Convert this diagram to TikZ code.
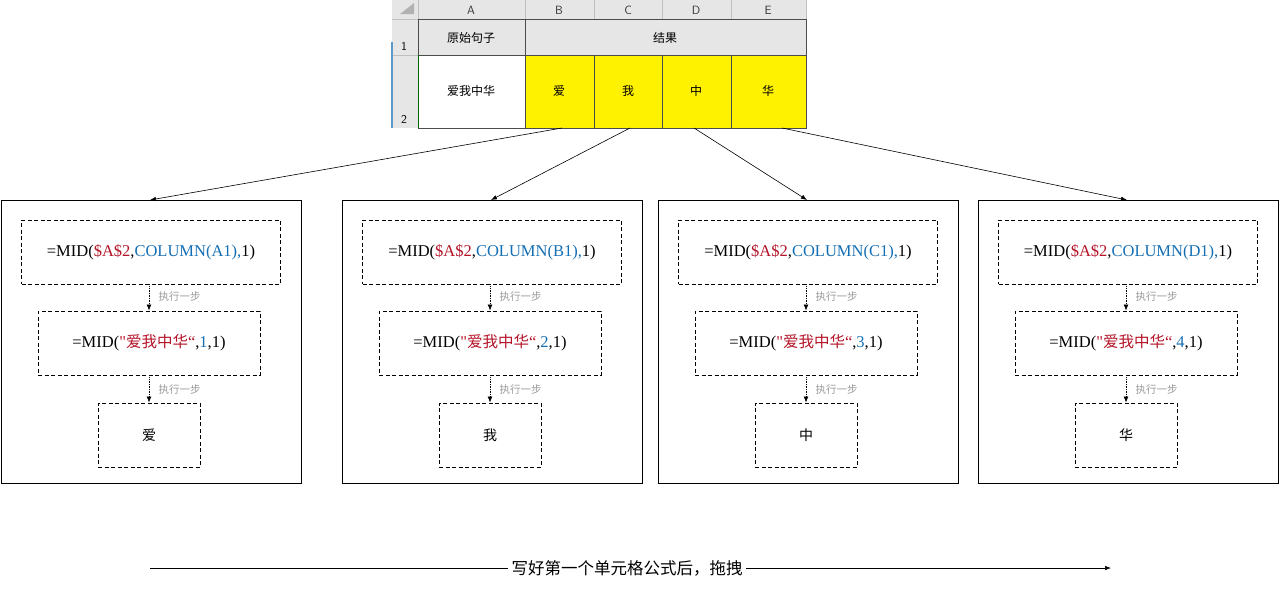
\documentclass[tikz,border=0pt]{standalone}
\usepackage{fontspec}
\setmainfont{Liberation Serif}
\newfontfamily\rawserif{Liberation Serif}
\newfontfamily\cjk{Noto Sans CJK SC}
\usetikzlibrary{arrows.meta}
\definecolor{fred}{RGB}{180,20,40}
\definecolor{fblue}{RGB}{20,110,180}
\definecolor{hdr}{RGB}{230,230,230}
\begin{document}
\begin{tikzpicture}[x=1pt,y=-1pt,
  outer/.style={draw,line width=0.9pt},
  dbox/.style={draw,dash pattern=on 4pt off 2.5pt,line width=0.9pt},
  step1/.style={-{Latex[length=6pt,width=5pt]},densely dotted,line width=0.7pt},
  lab/.style={font=\cjk\fontsize{10.5}{10.5}\selectfont,text=black!40,anchor=west},
  conn/.style={-{Latex[length=6pt,width=4.5pt]},line width=0.6pt},
  cell/.style={font=\cjk\fontsize{12}{12}\selectfont}]
\useasboundingbox (0,0) rectangle (1280,592);
% spreadsheet
\fill[hdr] (392,0) rectangle (806,19);
\fill[hdr] (392,19) rectangle (418,128);
\fill[hdr] (418,19) rectangle (806,55);
\fill[yellow] (525,55) rectangle (806,128);
\draw[black!25] (392,19) -- (806,19);
\foreach \x in {418,525,594,662,731,806} \draw[black!25] (\x,0) -- (\x,19);
\draw[black!25] (392,55) -- (418,55);
\fill[black!30] (400,14) -- (414,3) -- (414,14) -- cycle;
\foreach \x/\t in {471/A,559/B,628/C,696/D,768/E}
  \node[font=\sffamily\fontsize{12}{12}\selectfont,text=black!80] at (\x,10) {\t};
\node[font=\sffamily\fontsize{12}{12}\selectfont] at (404,46) {1};
\node[font=\sffamily\fontsize{12}{12}\selectfont] at (404,119) {2};
\draw[fblue!70,line width=1.5pt] (392,42) -- (392,128);
\draw[black!70] (418,19) rectangle (806,128);
\draw[black!70] (525,19) -- (525,128) (418,55) -- (806,55);
\foreach \x in {594,662,731} \draw[black!70] (\x,55) -- (\x,128);
\draw[green!40!black] (418,55) -- (418,128);
\node[cell] at (471,38) {原始句子};
\node[cell] at (665,38) {结果};
\node[cell] at (471,91) {爱我中华};
\node[cell] (s1) at (559,91) {爱};
\node[cell] (s2) at (628,91) {我};
\node[cell] (s3) at (696,91) {中};
\node[cell] (s4) at (768,91) {华};
\coordinate (t1) at (562,128);
\coordinate (t2) at (630,128);
\coordinate (t3) at (694,128);
\coordinate (t4) at (782,128);
% boxes
\foreach \i/\o/\col/\n/\ch in {1/0/A/1/爱,2/341/B/2/我,3/657/C/3/中,4/977/D/4/华}{
  \draw[outer] (\o+1,200) rectangle (\o+301,483);
  \coordinate (b\i) at (\o+150,200);
  \node[dbox,minimum width=259pt,minimum height=64pt,font=\fontsize{16.5}{16.5}\selectfont] (f\i) at (\o+151,252)
    {=MID(\textcolor{fred}{\$A\$2},\textcolor{fblue}{COLUMN(\col1),}1)};
  \node[dbox,minimum width=222pt,minimum height=64pt,font=\fontsize{16.5}{16.5}\selectfont] (m\i) at (\o+149,343)
    {=MID(\textcolor{fred}{{\rawserif"}{\cjk\fontsize{15.5}{15.5}\selectfont 爱我中华}“},\textcolor{fblue}{\n},1)};
  \node[dbox,minimum width=102pt,minimum height=64pt,font=\cjk\fontsize{14}{14}\selectfont] (r\i) at (\o+149,435) {\ch};
  \draw[step1] (f\i.south -| m\i.north) -- (m\i.north);
  \draw[step1] (m\i.south) -- (r\i.north);
  \node[lab] at (\o+155,297) {执行一步};
  \node[lab] at (\o+155,390) {执行一步};
}
\foreach \i in {1,2,3,4} \draw[conn] (t\i) -- (b\i);
% bottom
\node[font=\cjk\fontsize{16.5}{16.5}\selectfont] (cap) at (627,568) {写好第一个单元格公式后，拖拽};
\coordinate (L) at (150,568);
\coordinate (R) at (1111,568);
\draw[line width=0.6pt] (L) -- (cap.west);
\draw[conn] (cap.east) -- (R);
\end{tikzpicture}
\end{document}
